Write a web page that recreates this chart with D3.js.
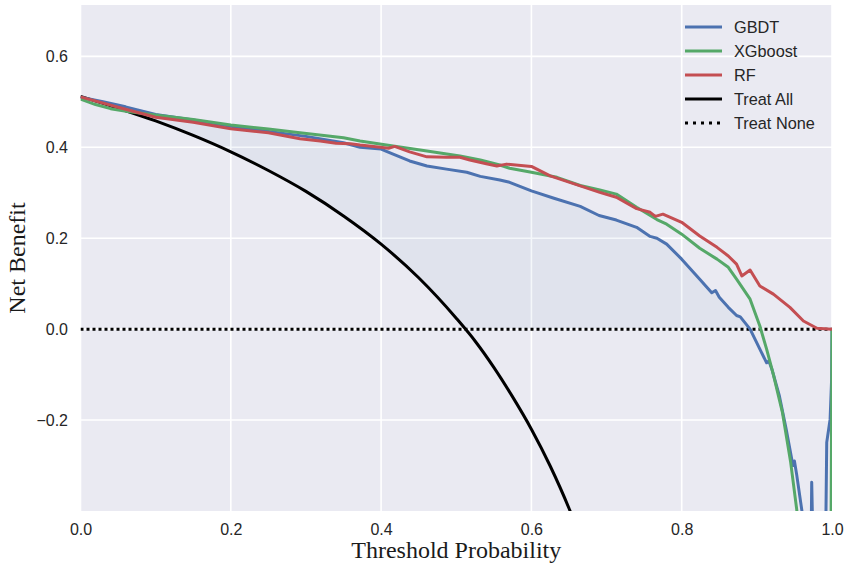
<!DOCTYPE html>
<html>
<head>
<meta charset="utf-8">
<script src="https://cdn.jsdelivr.net/npm/d3@7"></script>
<style>
body { margin: 0; background: #fff; }
text { font-family: "Liberation Sans", Arial, sans-serif; fill: #262626; }
</style>
</head>
<body>
<div id="chart"></div>
<script>
// data
const gbdtT = [0, 0.03, 0.06, 0.1, 0.15, 0.2, 0.25, 0.3, 0.35, 0.372, 0.4, 0.416, 0.438, 0.461, 0.487, 0.514, 0.532, 0.558, 0.571, 0.6, 0.63, 0.665, 0.69, 0.713, 0.74, 0.758, 0.767, 0.78, 0.8, 0.824, 0.84, 0.845, 0.85, 0.862, 0.873, 0.878, 0.891, 0.904, 0.913, 0.916, 0.92, 0.93, 0.939, 0.948, 0.95, 0.953, 0.96, 0.965, 0.972, 0.973, 0.975, 0.985, 0.992, 0.993, 0.9975, 0.9995, 1.0]
const gbdtNB = [0.510, 0.500, 0.489, 0.472, 0.460, 0.446, 0.435, 0.424, 0.410, 0.400, 0.396, 0.385, 0.370, 0.359, 0.352, 0.345, 0.336, 0.328, 0.323, 0.304, 0.288, 0.270, 0.250, 0.240, 0.224, 0.204, 0.200, 0.187, 0.154, 0.110, 0.080, 0.085, 0.070, 0.048, 0.030, 0.027, 0.000, -0.044, -0.074, -0.070, -0.088, -0.147, -0.220, -0.300, -0.290, -0.320, -0.400, -0.500, -0.500, -0.337, -0.500, -0.500, -0.400, -0.249, -0.198, -0.110, 0.000]

const xgbT = [0, 0.02, 0.04, 0.065, 0.1, 0.15, 0.2, 0.25, 0.292, 0.35, 0.372, 0.416, 0.461, 0.505, 0.532, 0.558, 0.571, 0.6, 0.634, 0.665, 0.691, 0.713, 0.74, 0.767, 0.78, 0.8, 0.824, 0.847, 0.862, 0.873, 0.891, 0.904, 0.913, 0.922, 0.934, 0.945, 0.953, 0.96, 0.998, 1.0]
const xgbNB = [0.506, 0.494, 0.485, 0.478, 0.471, 0.461, 0.449, 0.440, 0.432, 0.421, 0.414, 0.403, 0.392, 0.381, 0.372, 0.361, 0.354, 0.345, 0.334, 0.316, 0.306, 0.297, 0.268, 0.241, 0.231, 0.209, 0.178, 0.154, 0.136, 0.110, 0.066, 0.007, -0.044, -0.100, -0.183, -0.293, -0.396, -0.500, -0.700, 0.000]

const rfT = [0, 0.05, 0.1, 0.15, 0.2, 0.25, 0.292, 0.319, 0.34, 0.359, 0.372, 0.399, 0.41, 0.418, 0.438, 0.461, 0.487, 0.505, 0.518, 0.54, 0.554, 0.567, 0.6, 0.625, 0.665, 0.691, 0.713, 0.74, 0.758, 0.765, 0.775, 0.8, 0.824, 0.847, 0.862, 0.873, 0.88, 0.891, 0.904, 0.922, 0.944, 0.962, 0.98, 1.0]
const rfNB = [0.511, 0.488, 0.466, 0.455, 0.441, 0.432, 0.419, 0.414, 0.409, 0.408, 0.405, 0.400, 0.398, 0.402, 0.390, 0.379, 0.378, 0.378, 0.372, 0.364, 0.359, 0.363, 0.358, 0.337, 0.315, 0.301, 0.290, 0.265, 0.257, 0.248, 0.253, 0.235, 0.205, 0.180, 0.161, 0.143, 0.117, 0.130, 0.095, 0.077, 0.048, 0.018, 0.002, 0.000]

const allT = [0, 0.05, 0.1, 0.15, 0.2, 0.25, 0.3, 0.35, 0.4, 0.45, 0.5, 0.525, 0.55, 0.575, 0.6, 0.625, 0.65, 0.7]
const allNB = [0.512, 0.486, 0.458, 0.426, 0.390, 0.349, 0.303, 0.249, 0.187, 0.113, 0.024, -0.026, -0.084, -0.149, -0.220, -0.301, -0.394, -0.627]

const noneT = [0, 1]
const noneNB = [0, 0]

const xTicks = [0, 0.2, 0.4, 0.6, 0.8, 1.0]
const yTicks = [-0.2, 0, 0.2, 0.4, 0.6]

const seriesNames = ['GBDT', 'XGboost', 'RF', 'Treat All', 'Treat None']
const seriesColors = ['#4C72B0', '#55A868', '#C44E52', '#000000', '#000000']

let size = { width: 850, height: 574, margin: { left: 80.5, right: 18, top: 5, bottom: 63 } }
let innerW = size.width - size.margin.left - size.margin.right
let innerH = size.height - size.margin.top - size.margin.bottom

let svg = d3.select('#chart').append('svg')
  .attr('width', size.width)
  .attr('height', size.height)

let g = svg.append('g')
  .attr('transform', `translate(${size.margin.left},${size.margin.top})`)

let xScale = d3.scaleLinear().domain([0, 1]).range([0, innerW])
let yScale = d3.scaleLinear().domain([-0.4, 0.713]).range([innerH, 0])

// background + grid
g.append('rect').attr('width', innerW).attr('height', innerH).attr('fill', '#EAEAF2')
g.append('g').selectAll('line').data(xTicks).join('line')
  .attr('x1', d => xScale(d)).attr('x2', d => xScale(d))
  .attr('y1', 0).attr('y2', innerH)
  .attr('stroke', '#fff').attr('stroke-width', 1.6)
g.append('g').selectAll('line').data(yTicks).join('line')
  .attr('x1', 0).attr('x2', innerW)
  .attr('y1', d => yScale(d)).attr('y2', d => yScale(d))
  .attr('stroke', '#fff').attr('stroke-width', 1.6)

g.append('clipPath').attr('id', 'clip')
  .append('rect').attr('width', innerW).attr('height', innerH)

let plot = g.append('g').attr('clip-path', 'url(#clip)')

// shaded area between GBDT and max(treat all, treat none)
let allInterp = t => {
  let i = d3.bisectRight(allT, t) - 1
  if (i < 0) i = 0
  if (i >= allT.length - 1) i = allT.length - 2
  let f = (t - allT[i]) / (allT[i + 1] - allT[i])
  return allNB[i] + f * (allNB[i + 1] - allNB[i])
}
let fillData = gbdtT.map((t, i) => {
  let low = Math.max(allInterp(t), 0)
  return { t: t, y0: low, y1: Math.max(gbdtNB[i], low) }
})
plot.append('path')
  .datum(fillData)
  .attr('d', d3.area().x(d => xScale(d.t)).y0(d => yScale(d.y0)).y1(d => yScale(d.y1)))
  .attr('fill', '#4C72B0').attr('fill-opacity', 0.06)

let line = d3.line().x(d => xScale(d[0])).y(d => yScale(d[1]))
let smooth = d3.line().x(d => xScale(d[0])).y(d => yScale(d[1])).curve(d3.curveMonotoneX)

plot.append('path').datum(d3.zip(noneT, noneNB)).attr('d', line)
  .attr('fill', 'none').attr('stroke', '#000').attr('stroke-width', 3).attr('stroke-dasharray', '3,3')
plot.append('path').datum(d3.zip(allT, allNB)).attr('d', smooth)
  .attr('fill', 'none').attr('stroke', '#000').attr('stroke-width', 3)
plot.append('path').datum(d3.zip(gbdtT, gbdtNB)).attr('d', line)
  .attr('fill', 'none').attr('stroke', seriesColors[0]).attr('stroke-width', 3).attr('stroke-linejoin', 'round')
plot.append('path').datum(d3.zip(xgbT, xgbNB)).attr('d', line)
  .attr('fill', 'none').attr('stroke', seriesColors[1]).attr('stroke-width', 3).attr('stroke-linejoin', 'round')
plot.append('path').datum(d3.zip(rfT, rfNB)).attr('d', line)
  .attr('fill', 'none').attr('stroke', seriesColors[2]).attr('stroke-width', 3).attr('stroke-linejoin', 'round')

// axes
let xAxis = d3.axisBottom(xScale).tickValues(xTicks).tickFormat(d3.format('.1f')).tickSize(0).tickPadding(13)
let yAxis = d3.axisLeft(yScale).tickValues(yTicks).tickFormat(d3.format('.1f')).tickSize(0).tickPadding(12.5)
let gX = g.append('g').attr('transform', `translate(0,${innerH})`).call(xAxis)
let gY = g.append('g').call(yAxis)
gX.select('.domain').remove()
gY.select('.domain').remove()
svg.selectAll('.tick text').attr('font-size', 16).attr('font-family', '"Liberation Sans", Arial, sans-serif').attr('fill', '#262626')

svg.append('text')
  .attr('x', size.margin.left + innerW / 2)
  .attr('y', 558)
  .attr('text-anchor', 'middle')
  .style('font-family', '"Liberation Serif", "Times New Roman", serif')
  .style('font-size', '24px')
  .style('fill', '#1a1a1a')
  .text('Threshold Probability')
svg.append('text')
  .attr('transform', `translate(25,${size.margin.top + innerH / 2}) rotate(-90)`)
  .attr('text-anchor', 'middle')
  .style('font-family', '"Liberation Serif", "Times New Roman", serif')
  .style('font-size', '24px')
  .style('fill', '#1a1a1a')
  .text('Net Benefit')

// legend
let legend = svg.append('g').attr('transform', 'translate(685,27)')
let rows = legend.selectAll('g').data(seriesNames).join('g')
  .attr('transform', (d, i) => `translate(0,${i * 24})`)
rows.append('line')
  .attr('x1', 0).attr('x2', 37).attr('y1', 0).attr('y2', 0)
  .attr('stroke', (d, i) => seriesColors[i])
  .attr('stroke-width', 3)
  .attr('stroke-dasharray', (d, i) => i == 4 ? '3,5' : null)
rows.append('text')
  .attr('x', 49).attr('y', 0).attr('dy', '0.36em')
  .style('font-size', '16.3px')
  .text(d => d)
</script>
</body>
</html>
